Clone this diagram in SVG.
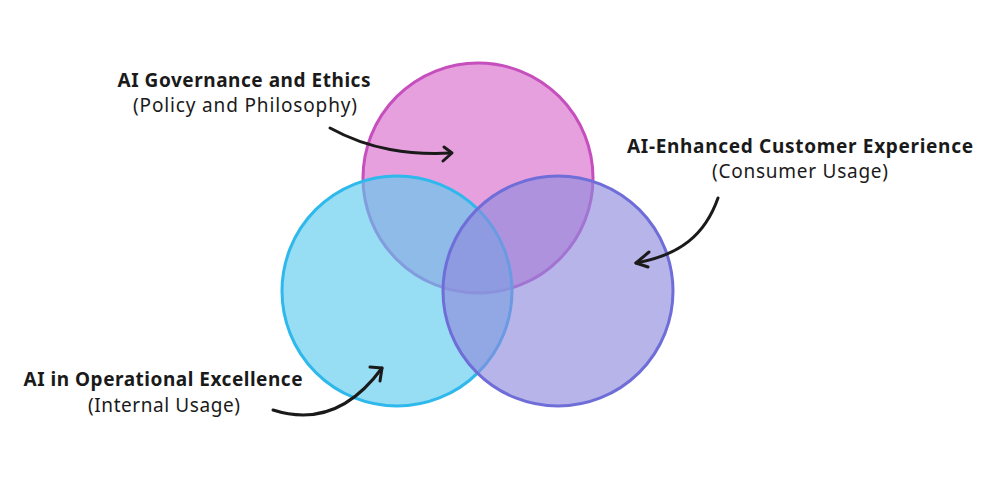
<svg xmlns="http://www.w3.org/2000/svg" width="1000" height="483" viewBox="0 0 1000 483">
<style>
.t{font-family:"Noto Sans","Open Sans",sans-serif;font-size:19px;fill:#1a1a1a;text-anchor:middle}
.b{font-weight:700}
.s{font-weight:400}
.c{stroke-width:3;fill-opacity:0.64}
.a{fill:none;stroke:#1a1a1a;stroke-width:3;stroke-linecap:round;stroke-linejoin:round}
</style>
<rect width="1000" height="483" fill="#ffffff"/>
<g id="governance">
<circle class="c" cx="478" cy="178" r="115" fill="#d96bcb" stroke="#c64fbe"/>
<text class="t b" x="244" y="87" textLength="253">AI Governance and Ethics</text>
<text class="t s" x="245" y="112" textLength="224">(Policy and Philosophy)</text>
</g>
<g id="operational">
<circle class="c" cx="397" cy="291" r="115" fill="#5ccaee" stroke="#2eb8ec"/>
<text class="t b" x="163" y="386" textLength="279">AI in Operational Excellence</text>
<text class="t s" x="164" y="412" textLength="152">(Internal Usage)</text>
</g>
<g id="customer">
<circle class="c" cx="558" cy="291" r="115" fill="#8e89dc" stroke="#6f6ed8"/>
<text class="t b" x="800" y="153" textLength="346">AI-Enhanced Customer Experience</text>
<text class="t s" x="800" y="178" textLength="176">(Consumer Usage)</text>
</g>
<g id="connectors">
<path class="a" d="M330,128 C370,150 410,155 451,153"/>
<path class="a" d="M444,147 L452,153 L443,161"/>
<path class="a" d="M718,198 C705,235 680,255 636,263"/>
<path class="a" d="M649,252 L636,263 L648,267"/>
<path class="a" d="M273,410 C320,425 355,405 382,368"/>
<path class="a" d="M370,367 L382,368 L380,381"/>
</g>
</svg>
